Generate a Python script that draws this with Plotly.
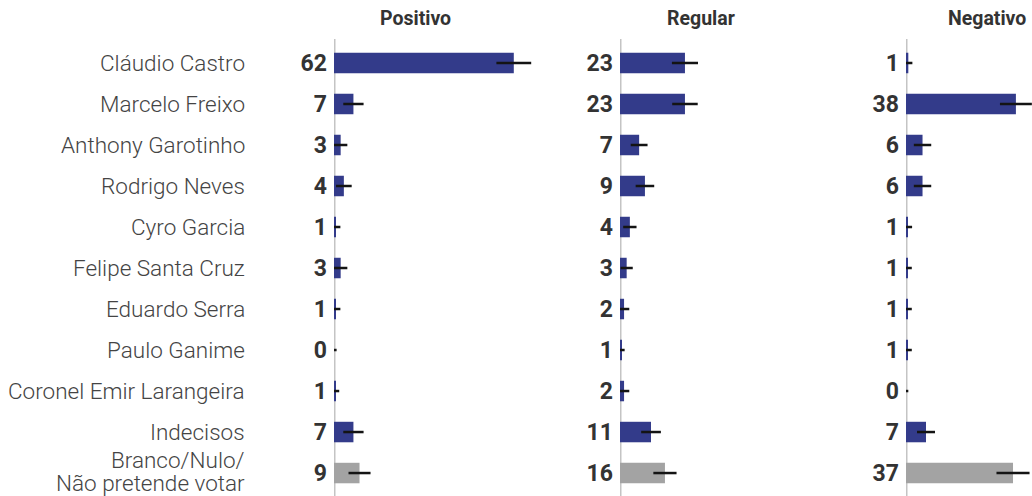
import plotly.graph_objects as go

# categories (top to bottom)
categories = [
    "Cláudio Castro", "Marcelo Freixo", "Anthony Garotinho", "Rodrigo Neves",
    "Cyro Garcia", "Felipe Santa Cruz", "Eduardo Serra", "Paulo Ganime",
    "Coronel Emir Larangeira", "Indecisos", "Branco/Nulo/<br>Não pretende votar",
]

panels = ["Positivo", "Regular", "Negativo"]

# bar values (%)
pos_values = [62.0, 6.7, 2.3, 3.4, 0.6, 2.3, 0.6, 0.0, 0.5, 6.7, 8.8]
reg_values = [22.4, 22.4, 6.6, 8.6, 3.4, 2.3, 1.4, 0.5, 1.4, 10.7, 15.5]
neg_values = [0.8, 37.9, 5.7, 5.7, 0.6, 0.6, 0.6, 0.6, 0.0, 6.9, 36.9]

# printed labels
pos_labels = ["62", "7", "3", "4", "1", "3", "1", "0", "1", "7", "9"]
reg_labels = ["23", "23", "7", "9", "4", "3", "2", "1", "2", "11", "16"]
neg_labels = ["1", "38", "6", "6", "1", "1", "1", "1", "0", "7", "37"]

# margin of error (+/-)
pos_errors = [6.0, 3.5, 2.3, 2.7, 1.6, 2.3, 1.6, 0.9, 1.3, 3.5, 3.8]
reg_errors = [4.5, 4.4, 2.9, 3.2, 2.3, 2.1, 1.8, 1.1, 1.8, 3.4, 4.0]
neg_errors = [1.4, 5.5, 3.0, 3.0, 1.5, 1.4, 1.4, 1.4, 0.8, 3.1, 5.7]

BLUE = "#333B8A"
GREY = "#A3A3A3"
bar_colors = [BLUE] * 10 + [GREY]

W, H = 1032, 496
starts = [334, 620, 906]
ends = [581, 867, 1032]
scale = 2.9  # px per percentage point

values = [pos_values, reg_values, neg_values]
labels = [pos_labels, reg_labels, neg_labels]
errors = [pos_errors, reg_errors, neg_errors]

fig = go.Figure()
for i in range(3):
    sfx = "" if i == 0 else str(i + 1)
    fig.add_trace(go.Bar(
        x=values[i], y=categories, orientation="h",
        marker=dict(color=bar_colors, line=dict(width=0)),
        width=0.5,
        error_x=dict(type="data", array=errors[i], color="#141414",
                     thickness=2.5, width=0),
        xaxis="x" + sfx, yaxis="y" + sfx,
        hoverinfo="skip", showlegend=False,
    ))
    fig.update_layout(**{
        "xaxis" + sfx: dict(
            domain=[starts[i] / W, ends[i] / W],
            range=[0, (ends[i] - starts[i]) / scale],
            visible=False, anchor="y" + sfx,
        ),
        "yaxis" + sfx: dict(
            domain=[0, 1], anchor="x" + sfx,
            categoryorder="array", categoryarray=categories,
            range=[10.56, -0.585],
            tickmode="array", tickvals=categories, ticktext=labels[i],
            ticks="", showgrid=False, zeroline=False, showline=False,
            ticklabelstandoff=6,
            tickfont=dict(family="Roboto", size=23, color="#333333", weight="bold"),
        ),
    })
    fig.add_shape(type="line", xref="x" + sfx, yref="y" + sfx + " domain",
                  x0=0, x1=0, y0=0, y1=1, layer="below",
                  line=dict(color="#C4C4C4", width=3))
    fig.add_annotation(text="<b>" + panels[i] + "</b>", xref="x" + sfx,
                       x=28.0, yref="paper", y=1, yshift=21,
                       showarrow=False, xanchor="center", yanchor="middle",
                       font=dict(family="Roboto", size=19.5, color="#333333"))

# category names; multi-line names get a tighter line spacing
for c in categories:
    lines = c.split("<br>")
    n = len(lines)
    for k, line in enumerate(lines):
        fig.add_annotation(text=line, xref="paper", x=247 / W, yref="y", y=c,
                           yshift=(n - 1) / 2 * 23 - k * 23 + (n - 1) * 1.5,
                           showarrow=False, xanchor="right", align="right",
                           font=dict(family="Roboto", size=22.5, color="#444444", weight=300))

fig.update_layout(
    width=W, height=H,
    margin=dict(l=0, r=0, t=39, b=0),
    paper_bgcolor="white", plot_bgcolor="white",
    bargap=0.5,
)

# drop the default 8px page margin so the figure fills the window
fig.write_html("out.html", config={"displayModeBar": False},
               post_script="document.body.style.margin='0';")
